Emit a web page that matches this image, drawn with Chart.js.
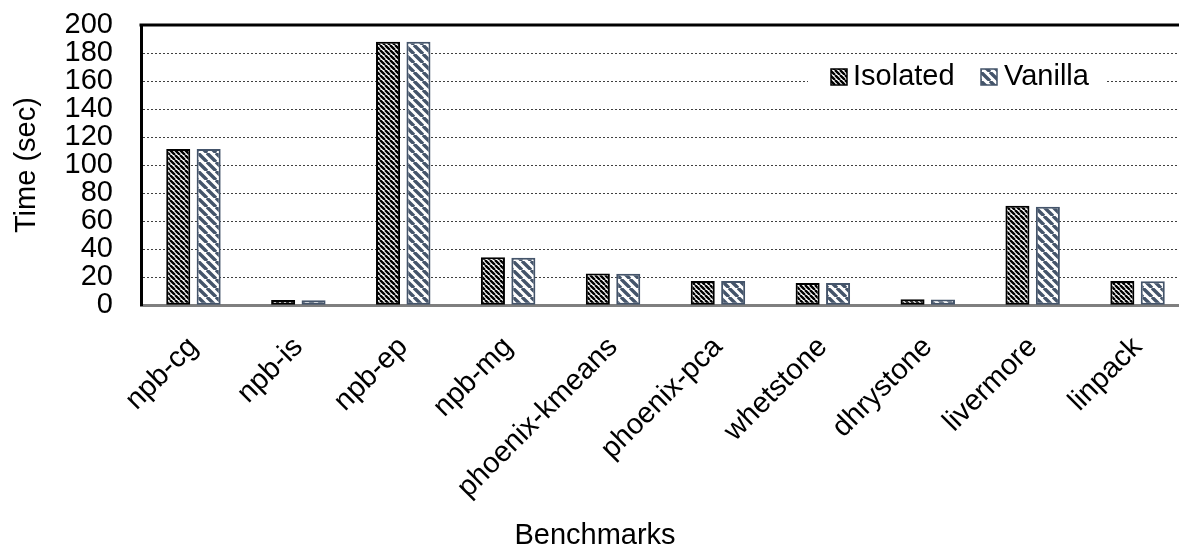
<!DOCTYPE html>
<html><head><meta charset="utf-8">
<script src="https://cdn.jsdelivr.net/npm/chart.js@4.4.0/dist/chart.umd.min.js"></script>
<style>
html,body{margin:0;padding:0;overflow:hidden;background:#fff;width:1179px;height:553px}
#wrap{position:absolute;left:0;top:0;width:1190px;height:553px}
</style></head>
<body><div id="wrap"><canvas id="c" width="1190" height="553"></canvas></div>
<script>
const categories = ['npb-cg','npb-is','npb-ep','npb-mg','phoenix-kmeans','phoenix-pca','whetstone','dhrystone','livermore','linpack'];
const seriesNames = ['Isolated','Vanilla'];
const isolated = [111.5, 3.7, 188, 34.2, 22.7, 17.2, 15.8, 4.2, 71, 17.2];
const vanilla  = [111.5, 3.6, 188, 33.8, 22.5, 17.2, 15.8, 4.0, 70.3, 17.1];
const yMin = 0, yMax = 200, yStep = 20;
const yTitle = 'Time (sec)';
const xTitle = 'Benchmarks';

function stripes(p, lw, color){
  const c = document.createElement('canvas');
  c.width = p; c.height = p;
  const g = c.getContext('2d');
  g.fillStyle = '#fff'; g.fillRect(0,0,p,p);
  g.strokeStyle = color; g.lineWidth = lw;
  g.beginPath();
  for (let k=-1;k<=1;k++){ g.moveTo(k*p,0); g.lineTo(k*p+p,p); }
  g.stroke();
  return g.createPattern(c,'repeat');
}
const ctx = document.getElementById('c').getContext('2d');
const patIso = stripes(5, 2.4, '#000');
const patVan = stripes(9, 3.4, '#44546a');
const borderCols = ['#000','#44546a'];
const pats = [patIso, patVan];

Chart.defaults.font.family = "'Liberation Sans', Arial, Helvetica, sans-serif";
Chart.defaults.font.size = 29;
Chart.defaults.color = '#000';

const decor = {
  id:'decor',
  afterDatasetsDraw(chart){
    const a = chart.chartArea, g = chart.ctx;
    g.save();
    g.strokeStyle = '#000'; g.lineWidth = 3;
    g.beginPath(); g.moveTo(a.left-1.5, a.top); g.lineTo(a.right, a.top); g.stroke();
    // legend
    g.fillStyle = '#fff';
    g.fillRect(808, 62, 297, 38);
    g.font = "29px 'Liberation Sans', Arial, sans-serif";
    g.textBaseline = 'alphabetic';
    const items = [{bx:831, tx:853}, {bx:981, tx:1004}];
    items.forEach((it,i)=>{
      g.fillStyle = pats[i];
      g.fillRect(it.bx, 69, 16, 16);
      g.strokeStyle = borderCols[i]; g.lineWidth = 1.5;
      g.strokeRect(it.bx, 69, 16, 16);
      g.fillStyle = '#000';
      g.fillText(seriesNames[i], it.tx, 85);
    });
    g.restore();
  }
};

new Chart(ctx, {
  type:'bar',
  data:{
    labels: categories,
    datasets:[
      {label:seriesNames[0], data:isolated, backgroundColor:patIso, borderColor:borderCols[0], borderWidth:2, borderSkipped:false, barPercentage:0.79, categoryPercentage:0.58},
      {label:seriesNames[1], data:vanilla, backgroundColor:patVan, borderColor:borderCols[1], borderWidth:2, borderSkipped:false, barPercentage:0.79, categoryPercentage:0.58}
    ]
  },
  options:{
    responsive:false, animation:false, devicePixelRatio:1,
    layout:{padding:{top:25,left:0,right:0,bottom:0}},
    plugins:{
      legend:{display:false}, tooltip:{enabled:false},
      title:{display:true, position:'bottom', text:xTitle, font:{size:29, weight:'normal'}, color:'#000', padding:{top:0,bottom:0}}
    },
    scales:{
      x:{
        grid:{display:false, drawTicks:false},
        border:{display:true, color:'#7f7f7f', width:3},
        ticks:{minRotation:45, maxRotation:45, padding:25, font:{size:29}, color:'#000', autoSkip:false},
        afterFit(s){ s.height = 213; s.paddingLeft = 0; s.paddingRight = 0; }
      },
      y:{
        min:yMin, max:yMax,
        ticks:{stepSize:yStep, padding:28, font:{size:29}, color:'#000', autoSkip:false},
        grid:{color:'#404040', lineWidth:1, drawTicks:false},
        border:{display:true, color:'#000', width:3, dash:[2,2]},
        title:{display:true, text:yTitle, font:{size:29}, color:'#000', padding:{top:10,bottom:0}},
        afterFit(s){ s.width = 141; s.paddingTop = 0; s.paddingBottom = 0; }
      }
    }
  },
  plugins:[decor]
});
</script></body></html>
